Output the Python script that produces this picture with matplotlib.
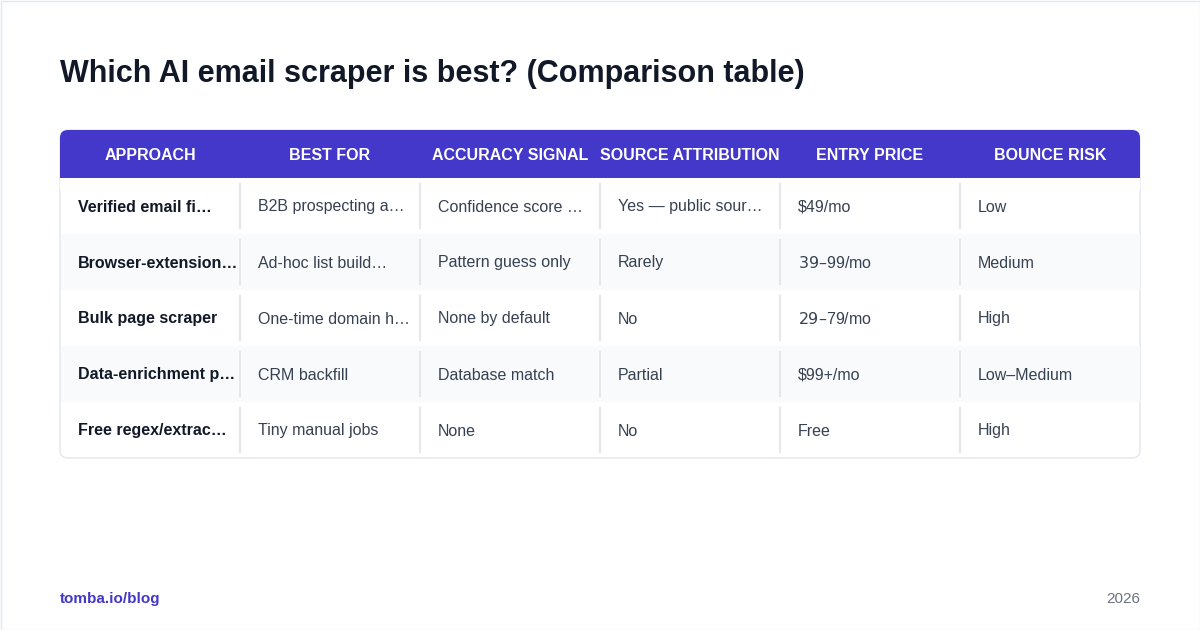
import matplotlib
matplotlib.use("Agg")
import matplotlib.pyplot as plt
from matplotlib.patches import FancyBboxPatch, Rectangle

plt.rcParams['font.family'] = ['Liberation Sans', 'DejaVu Sans']

title = "Which AI email scraper is best? (Comparison table)"
headers = ["APPROACH", "BEST FOR", "ACCURACY SIGNAL", "SOURCE ATTRIBUTION", "ENTRY PRICE", "BOUNCE RISK"]
approach = ["Verified email fi…", "Browser-extension…", "Bulk page scraper", "Data-enrichment p…", "Free regex/extrac…"]
best_for = ["B2B prospecting a…", "Ad-hoc list build…", "One-time domain h…", "CRM backfill", "Tiny manual jobs"]
accuracy = ["Confidence score …", "Pattern guess only", "None by default", "Database match", "None"]
source = ["Yes — public sour…", "Rarely", "No", "Partial", "No"]
price = ["$49/mo", "$39–$99/mo", "$29–$79/mo", "$99+/mo", "Free"]
bounce = ["Low", "Medium", "High", "Low–Medium", "High"]
columns = [approach, best_for, accuracy, source, price, bounce]

W, H = 1200, 630
fig = plt.figure(figsize=(12, 6.3), dpi=100)
ax = fig.add_axes([0, 0, 1, 1])
ax.set_xlim(0, W); ax.set_ylim(H, 0); ax.axis('off')
fig.patch.set_facecolor('white')
ax.add_patch(Rectangle((0.5, 0.5), W - 1, H - 1, fill=False, ec='#e5e7eb', lw=1))

ax.text(60, 74, title, fontsize=22, fontweight='bold', color='#111827', va='center', ha='left')

x0, colw = 60, 180
top, hh, rh = 130, 48, 56
n = len(approach)
bottom = top + hh + n * rh
purple = '#4338ca'

# outer card
ax.add_patch(FancyBboxPatch((x0, top), colw * 6, bottom - top, boxstyle="round,pad=0,rounding_size=8",
                            fc='white', ec='#e2e8f0', lw=1, zorder=1))
# header
ax.add_patch(FancyBboxPatch((x0, top), colw * 6, hh + 10, boxstyle="round,pad=0,rounding_size=8",
                            fc=purple, ec='none', zorder=2))
ax.add_patch(Rectangle((x0, top + hh), colw * 6, 12, fc='white', ec='none', zorder=2))
for j, h in enumerate(headers):
    ax.text(x0 + colw * j + colw / 2, top + hh / 2 + 1, h, color='white', fontsize=11.5,
            fontweight='bold', ha='center', va='center', zorder=3)

for i in range(n):
    ry = top + hh + i * rh
    if i % 2 == 1:
        ax.add_patch(Rectangle((x0 + 0.5, ry), colw * 6 - 1, rh, fc='#f8fafc', ec='none', zorder=2))
    for j, col in enumerate(columns):
        cx = x0 + colw * j
        if j > 0:
            ax.plot([cx, cx], [ry + 6, ry + rh - 6], color='#e5e7eb', lw=1.5, zorder=3)
        ax.text(cx + 18, ry + rh / 2 + 1, col[i], fontsize=11.5,
                fontweight='bold' if j == 0 else 'normal',
                color='#111827' if j == 0 else '#374151', ha='left', va='center', zorder=3)

ax.text(60, 599, "tomba.io/blog", fontsize=11, fontweight='bold', color=purple, va='center', ha='left')
ax.text(1140, 599, "2026", fontsize=11, color='#6b7280', va='center', ha='right')

fig.savefig('out.png', dpi=100, facecolor='white')
